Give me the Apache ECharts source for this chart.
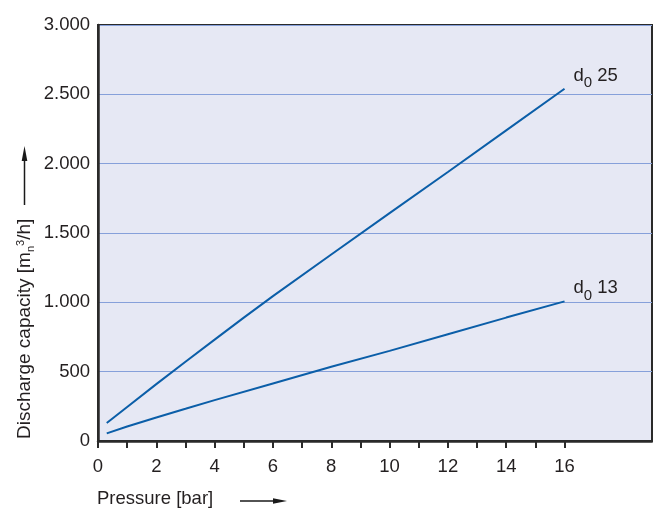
<!DOCTYPE html>
<html>
<head>
<meta charset="utf-8">
<script src="https://cdn.jsdelivr.net/npm/echarts@6/dist/echarts.min.js"></script>
<style>
html,body{margin:0;padding:0;background:#fff;}
#c{width:653px;height:513px;}
</style>
</head>
<body>
<div id="c"></div>
<script>
// ---- data ----
const d25X = [0.3, 1, 2, 3, 4, 5, 6, 8, 10, 12, 14, 16];
const d25Y = [130, 245, 410, 572, 731, 890, 1045, 1345, 1643, 1940, 2240, 2540];
const d13X = [0.3, 1, 2, 3, 4, 6, 8, 10, 12, 14, 16];
const d13Y = [55, 105, 170, 232, 295, 415, 535, 650, 770, 890, 1007];
const xTickValues = [0,1,2,3,4,5,6,7,8,9,10,11,12,13,14,15,16];
const xLabelValues = [0,2,4,6,8,10,12,14,16];
const yTickLabels = [0,500,1000,1500,2000,2500,3000];
const seriesNames = ['d0 25', 'd0 13'];
const xTitle = 'Pressure [bar]';

const FONT = '"Liberation Sans", Arial, Helvetica, sans-serif';
const TXT = '#231f20';
const LINE = '#0b5ea8';

function fmtY(v){
  if (v >= 1000) { return Math.floor(v/1000) + '.' + String(v % 1000).padStart(3,'0'); }
  return String(v);
}
function pairs(xs, ys){ return xs.map((x,i)=>[x, ys[i]]); }

const endRich = {
  a: {fontSize: 18.5, fontFamily: FONT, color: TXT, lineHeight: 20, padding: [0, 0, 7, 0]},
  s: {fontSize: 15, fontFamily: FONT, color: TXT, lineHeight: 20, padding: [7, 0, 0, 0]}
};
function endLabel(name){
  const parts = name.split(' ');
  return {
    show: true, distance: 0, offset: [9, -9.5],
    formatter: '{a|' + parts[0].charAt(0) + '}{s|' + parts[0].slice(1) + '}{a| ' + parts[1] + '}',
    rich: endRich
  };
}

const chart = echarts.init(document.getElementById('c'), null, {renderer: 'canvas'});
chart.setOption({
  animation: false,
  backgroundColor: '#ffffff',
  grid: {
    left: 98, right: 1, top: 25, bottom: 72,
    show: true, backgroundColor: '#e6e8f4', borderColor: '#2a2a2a', borderWidth: 2
  },
  xAxis: {
    type: 'value', min: 0, max: 19, interval: 1,
    axisLine: {show: true, lineStyle: {color: '#2a2a2a', width: 2.5}},
    axisTick: {show: true, length: 7, lineStyle: {color: '#2a2a2a', width: 2}, customValues: xTickValues},
    axisLabel: {show: true, margin: 16, fontSize: 18.5, fontFamily: FONT, color: TXT, customValues: xLabelValues},
    splitLine: {show: false}
  },
  yAxis: {
    type: 'value', min: 0, max: 3000, interval: 500,
    axisLine: {show: true, lineStyle: {color: '#2a2a2a', width: 2.5}},
    axisTick: {show: false},
    axisLabel: {show: true, margin: 8, fontSize: 18.5, fontFamily: FONT, color: TXT, formatter: fmtY},
    splitLine: {show: true, lineStyle: {color: '#86a0da', width: 1}}
  },
  series: [
    {
      name: seriesNames[0], type: 'line', data: pairs(d25X, d25Y),
      showSymbol: false, symbol: 'none', smooth: false,
      lineStyle: {color: LINE, width: 2}, endLabel: endLabel(seriesNames[0]), z: 5
    },
    {
      name: seriesNames[1], type: 'line', data: pairs(d13X, d13Y),
      showSymbol: false, symbol: 'none', smooth: false,
      lineStyle: {color: LINE, width: 2}, endLabel: endLabel(seriesNames[1]), z: 5
    }
  ],
  graphic: [
    {
      type: 'text', x: 25, y: 439, rotation: Math.PI/2,
      style: {
        text: '{a|Discharge capacity [m}{sub|n}{sup|3}{a|/h]}',
        align: 'left', verticalAlign: 'middle',
        rich: {
          a: {fontSize: 19, fontFamily: FONT, fill: TXT, lineHeight: 20, padding: [5, 0, 5, 0]},
          sub: {fontSize: 11, fontFamily: FONT, fill: TXT, lineHeight: 11, padding: [15, 0, 4, 0]},
          sup: {fontSize: 11, fontFamily: FONT, fill: TXT, lineHeight: 11, padding: [5, 0, 14, 0]}
        }
      }
    },
    {type: 'line', shape: {x1: 24.5, y1: 205, x2: 24.5, y2: 156}, style: {stroke: '#1a1a1a', lineWidth: 1.5}},
    {type: 'polygon', shape: {points: [[24.5, 146], [21.7, 161], [27.3, 161]]}, style: {fill: '#1a1a1a'}},
    {
      type: 'text', x: 97, y: 499,
      style: {text: xTitle, font: '18.5px ' + FONT, fill: TXT, align: 'left', verticalAlign: 'middle'}
    },
    {type: 'line', shape: {x1: 240, y1: 501, x2: 276, y2: 501}, style: {stroke: '#1a1a1a', lineWidth: 1.5}},
    {type: 'polygon', shape: {points: [[287, 501], [273, 498.2], [273, 503.8]]}, style: {fill: '#1a1a1a'}}
  ]
});
</script>
</body>
</html>
